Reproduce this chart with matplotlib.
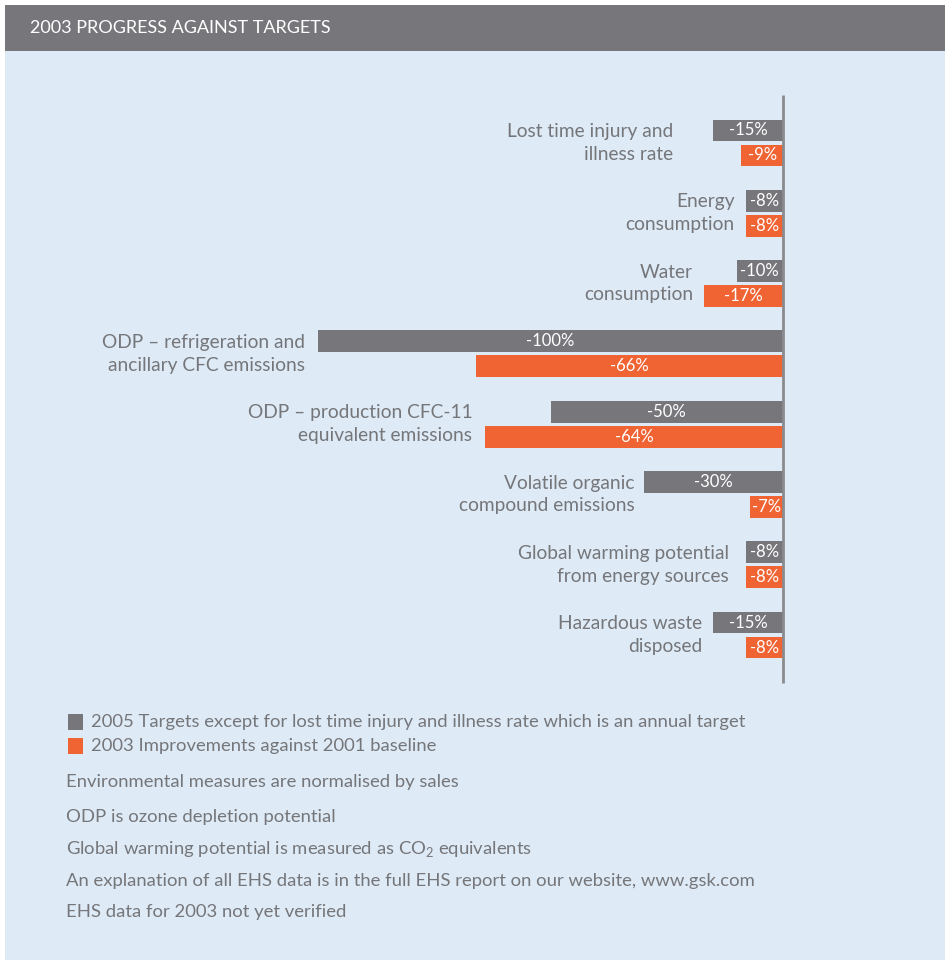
import matplotlib
matplotlib.use("Agg")
import matplotlib.pyplot as plt
from matplotlib.patches import Rectangle

plt.rcParams["font.family"] = ["Lato", "DejaVu Sans"]
plt.rcParams["mathtext.fontset"] = "custom"
plt.rcParams["mathtext.rm"] = "Lato"

# -----------------------------
# Data
# -----------------------------
categories = [
    "Lost time injury and\nillness rate",
    "Energy\nconsumption",
    "Water\nconsumption",
    "ODP \u2013 refrigeration and\nancillary CFC emissions",
    "ODP \u2013 production CFC-11\nequivalent emissions",
    "Volatile organic\ncompound emissions",
    "Global warming potential\nfrom energy sources",
    "Hazardous waste\ndisposed",
]
targets_2005 = [-15, -8, -10, -100, -50, -30, -8, -15]
improvements_2003 = [-9, -8, -17, -66, -64, -7, -8, -8]

title = "2003 PROGRESS AGAINST TARGETS"
legend_labels = [
    "2005 Targets except for lost time injury and illness rate which is an annual target",
    "2003 Improvements against 2001 baseline",
]
notes = [
    "Environmental measures are normalised by sales",
    "ODP is ozone depletion potential",
    "Global warming potential is measured as CO$_2$ equivalents",
    "An explanation of all EHS data is in the full EHS report on our website, www.gsk.com",
    "EHS data for 2003 not yet verified",
]

# -----------------------------
# Styling / layout
# -----------------------------
GREY = "#77777b"
ORANGE = "#f06434"
BG = "#deeaf5"
TEXT = "#75767a"
AXIS = "#8a8b8f"

W, H = 948, 965
label_gap_px = [40, 11, 11, 13, 13, 9, 17, 11]
px_per_pct = 465 / 100

fig = plt.figure(figsize=(W / 100, H / 100), dpi=100)
fig.patch.set_facecolor("white")

# background axes in pixel coordinates
bg = fig.add_axes([0, 0, 1, 1])
bg.set_xlim(0, W)
bg.set_ylim(H, 0)
bg.axis("off")
bg.add_patch(Rectangle((5, 5), 940, 955, color=BG, lw=0))
bg.add_patch(Rectangle((5, 5), 940, 46, color=GREY, lw=0))
bg.text(30, 28, title, color="white", fontsize=13, va="center", ha="left")

# legend
legend_colors = [GREY, ORANGE]
for i, (lab, col) in enumerate(zip(legend_labels, legend_colors)):
    y = 722 + 24 * i
    bg.add_patch(Rectangle((68, y - 8), 15, 16, color=col, lw=0))
    bg.text(91, y, lab, color=TEXT, fontsize=13.3, va="center", ha="left")

note_y = [782, 817, 849, 881, 912]
for y, note in zip(note_y, notes):
    bg.text(66, y, note, color=TEXT, fontsize=13.3, va="center", ha="left")

# bar axes: x in percent, y in group index
ax = fig.add_axes([318 / W, 1 - 683 / H, 465 / W, 588 / H])
ax.set_xlim(-100, 0)
n = len(categories)
pad = 48 / 70.3
ax.set_ylim(n - 1 + pad, -pad)
ax.axis("off")
ax.patch.set_alpha(0)

off = 12.5 / 70.3
bh = 0.31
ypos = list(range(n))
ax.barh([y - off for y in ypos], targets_2005, height=bh, color=GREY, align="center")
ax.barh([y + off for y in ypos], improvements_2003, height=bh, color=ORANGE, align="center")

for y, t, imp in zip(ypos, targets_2005, improvements_2003):
    ax.text(t / 2, y - off, f"{t}%", color="white", fontsize=12,
            ha="center", va="center")
    ax.text(imp / 2, y + off, f"{imp}%", color="white", fontsize=12,
            ha="center", va="center")

for y, cat, t, imp, gap in zip(ypos, categories, targets_2005, improvements_2003, label_gap_px):
    x = min(t, imp) - gap / px_per_pct
    ax.text(x, y, cat, color=TEXT, fontsize=13.8, ha="right", va="center",
            linespacing=1.4, clip_on=False)

ax.plot([0, 0], [n - 1 + pad, -pad], color=AXIS, lw=2, clip_on=False,
        solid_capstyle="butt")

fig.savefig("out.png", dpi=100, facecolor=fig.get_facecolor())
